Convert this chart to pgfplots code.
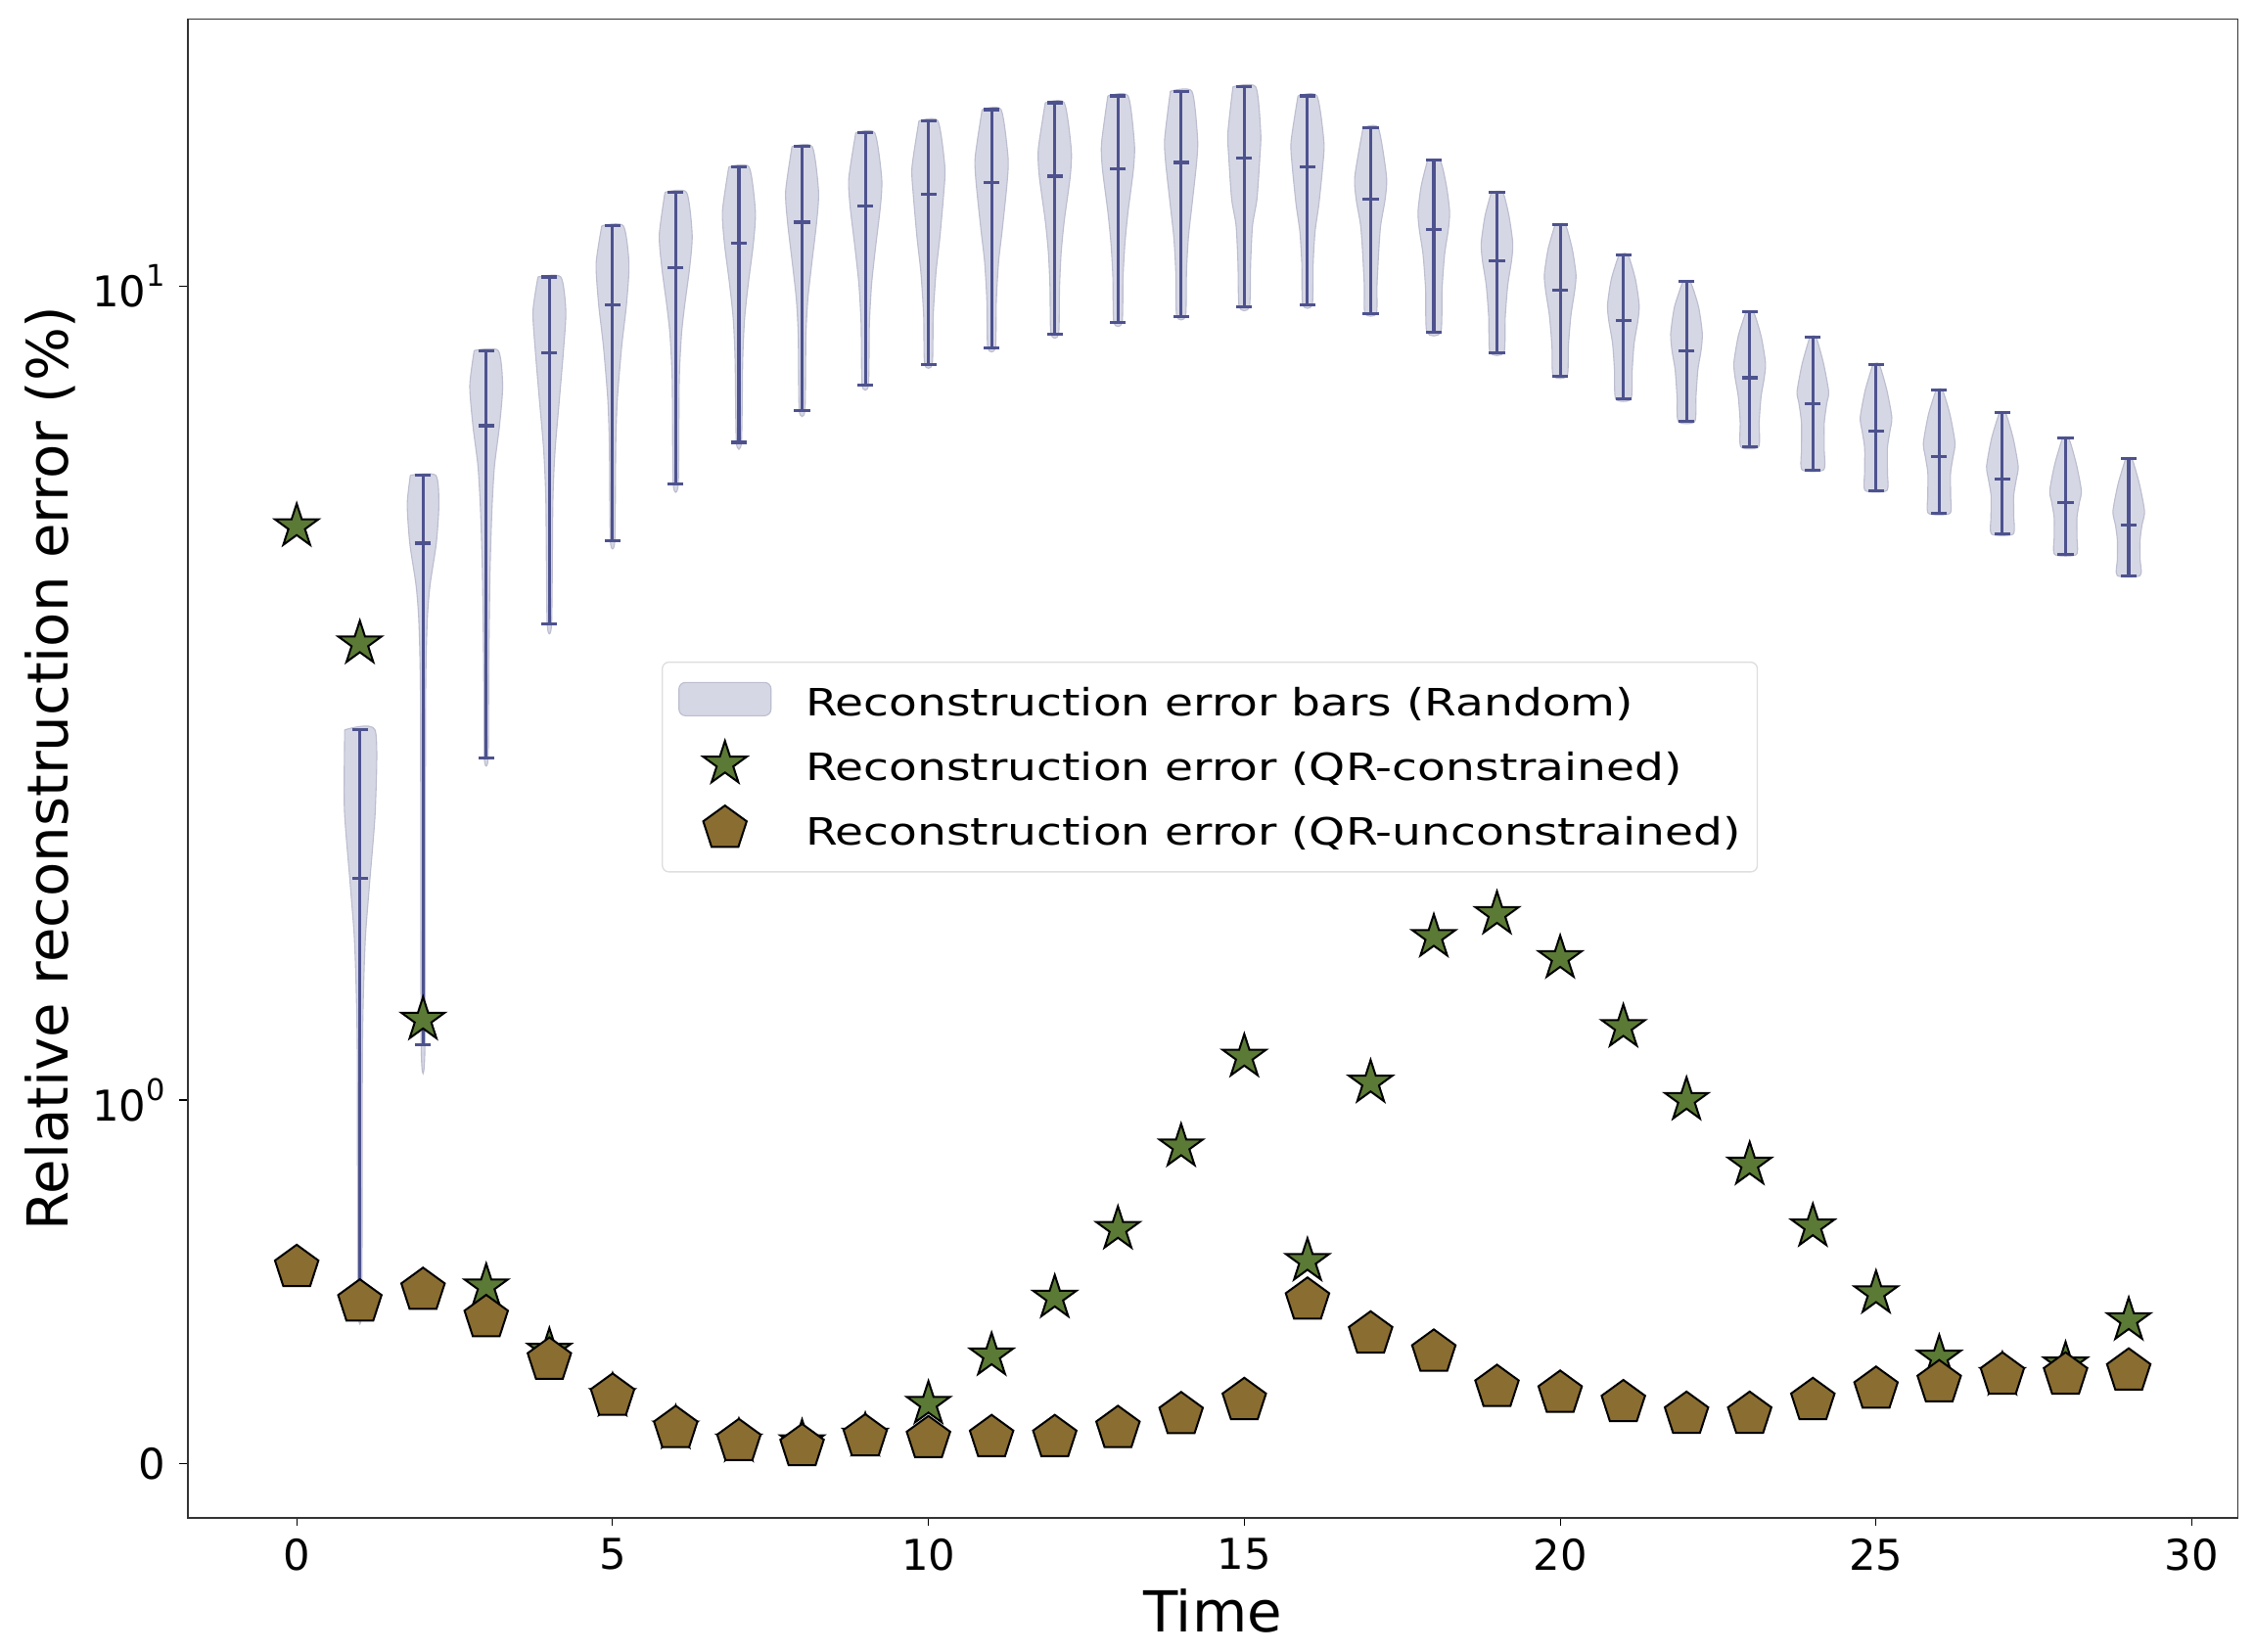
\documentclass[border=0pt]{standalone}
\usepackage{fontspec}
\setmainfont{DejaVu Sans}
\newfontfamily\legfont[FakeStretch=1.225]{DejaVu Sans}
\usepackage{pgfplots}
\usepackage{pgfplotstable}
\pgfplotsset{compat=1.18}
\usetikzlibrary{plotmarks}

\definecolor{vfill}{RGB}{214,215,229}
\definecolor{vedge}{RGB}{188,189,206}
\definecolor{vline}{RGB}{77,82,142}
\definecolor{starc}{RGB}{91,122,53}
\definecolor{pentc}{RGB}{138,109,49}

\pgfdeclareplotmark{fstar}{%
  \pgfpathmoveto{\pgfqpointpolar{90}{\pgfplotmarksize}}%
  \pgfpathlineto{\pgfqpointpolar{126}{0.381966\pgfplotmarksize}}%
  \pgfpathlineto{\pgfqpointpolar{162}{\pgfplotmarksize}}%
  \pgfpathlineto{\pgfqpointpolar{198}{0.381966\pgfplotmarksize}}%
  \pgfpathlineto{\pgfqpointpolar{234}{\pgfplotmarksize}}%
  \pgfpathlineto{\pgfqpointpolar{270}{0.381966\pgfplotmarksize}}%
  \pgfpathlineto{\pgfqpointpolar{306}{\pgfplotmarksize}}%
  \pgfpathlineto{\pgfqpointpolar{342}{0.381966\pgfplotmarksize}}%
  \pgfpathlineto{\pgfqpointpolar{18}{\pgfplotmarksize}}%
  \pgfpathlineto{\pgfqpointpolar{54}{0.381966\pgfplotmarksize}}%
  \pgfpathclose
  \pgfusepathqfillstroke
}
\pgfdeclareplotmark{fpent}{%
  \pgfpathmoveto{\pgfqpointpolar{90}{\pgfplotmarksize}}%
  \pgfpathlineto{\pgfqpointpolar{162}{\pgfplotmarksize}}%
  \pgfpathlineto{\pgfqpointpolar{234}{\pgfplotmarksize}}%
  \pgfpathlineto{\pgfqpointpolar{306}{\pgfplotmarksize}}%
  \pgfpathlineto{\pgfqpointpolar{18}{\pgfplotmarksize}}%
  \pgfpathclose
  \pgfusepathqfillstroke
}

\newcommand{\tenpow}[1]{10\raisebox{0.48em}{\fontsize{13.7}{14}\selectfont #1}}
\newcommand{\legbox}{\pgfpathrectangle{\pgfpoint{0pt}{-8.5pt}}{\pgfpoint{58.25pt}{17pt}}\pgfusepath{use as bounding box}}

% violin summary: x, minimum, median, maximum (relative error, %)
\pgfplotstableread{
x min med max
1 0.44 1.873 2.85
2 1.168 4.835 5.86
3 2.63 6.74 8.34
4 3.85 8.29 10.27
5 4.864 9.50 11.87
6 5.72 10.54 13.05
7 6.43 11.31 14.02
8 7.04 11.99 14.85
9 7.56 12.55 15.44
10 8.02 12.97 15.97
11 8.40 13.40 16.49
12 8.73 13.66 16.81
13 9.02 13.93 17.14
14 9.19 14.20 17.37
15 9.43 14.38 17.59
16 9.49 14.02 17.14
17 9.25 12.81 15.66
18 8.78 11.75 14.28
19 8.29 10.75 13.05
20 7.76 9.88 11.91
21 7.27 9.07 10.94
22 6.82 8.34 10.13
23 6.35 7.72 9.30
24 5.95 7.18 8.66
25 5.61 6.64 8.02
26 5.26 6.18 7.46
27 4.96 5.79 6.99
28 4.68 5.43 6.51
29 4.41 5.09 6.14
}\vstats

\pgfplotstableread{
x y
0 5.07
1 3.64
2 1.255
3 0.487
4 0.310
5 0.185
6 0.096
7 0.060
8 0.058
9 0.076
10 0.164
11 0.297
12 0.456
13 0.645
14 0.872
15 1.13
16 0.557
17 1.05
18 1.586
19 1.692
20 1.494
21 1.229
22 1.0
23 0.822
24 0.652
25 0.468
26 0.291
27 0.243
28 0.272
29 0.394
}\qrcon

\pgfplotstableread{
x y
0 0.539
1 0.444
2 0.476
3 0.401
4 0.284
5 0.185
6 0.096
7 0.060
8 0.046
9 0.073
10 0.068
11 0.071
12 0.071
13 0.096
14 0.134
15 0.173
16 0.449
17 0.356
18 0.306
19 0.209
20 0.193
21 0.167
22 0.135
23 0.135
24 0.173
25 0.204
26 0.222
27 0.243
28 0.243
29 0.254
}\qrunc

\begin{document}
\begin{tikzpicture}
\path[use as bounding box] (-86.31pt,-61.2pt) rectangle (950.0pt,697.93pt);
\begin{axis}[
  at={(0pt,0pt)}, anchor=south west,
  width=942.5pt, height=689.2pt, scale only axis,
  xmin=-1.725, xmax=30.725,
  ymin=-0.1498, ymax=21.31,
  y coord trafo/.code={\pgfmathparse{ifthenelse(#1<=1,0.4467*#1,0.4467+0.4342945*ln(max(#1,1)))}},
  xtick={0,5,10,15,20,25,30},
  xticklabels={0,5,10,15,20,25,30},
  ytick={0,1,10},
  yticklabels={0,\tenpow{0},\tenpow{1}},
  minor tick num=0,
  xtick pos=bottom, ytick pos=left,
  tick align=outside,
  major tick length=3.8pt,
  every tick/.style={black, line width=0.5pt},
  axis line style={line width=0.7pt, black!80},
  ticklabel style={font=\fontsize{19.5}{20}\selectfont},
  yticklabel style={anchor=east, inner sep=0pt, xshift=-6.3pt},
  xticklabel style={anchor=north, inner sep=0pt, yshift=-5.6pt},
  xlabel={Time},
  ylabel={Relative reconstruction error (\%)},
  xlabel style={at={(axis description cs:0.5,-0.0759)}, anchor=base, inner sep=0pt, font=\fontsize{26}{28}\selectfont},
  ylabel style={at={(axis description cs:-0.0586,0.5)}, anchor=base, inner sep=0pt, font=\fontsize{26}{28}\selectfont},
  legend cell align=left,
  legend style={at={(0.2312,0.5713)}, anchor=north west,
    draw=black!13, line width=0.6pt, rounded corners=3pt,
    fill=white, fill opacity=0.8, text opacity=1,
    inner xsep=5.65pt, inner ysep=10pt,
    row sep=12.7pt, column sep=0pt,
    nodes={inner xsep=2pt, inner ysep=0pt, text height=14.6pt, text depth=2.4pt},
    font=\legfont\fontsize{17.3}{18}\selectfont},
  vio/.style={fill=vfill, draw=vedge, line width=0.5pt, smooth, tension=0.4, forget plot},
  vl/.style={vline, line width=1.4pt, forget plot},
  cap/.style={only marks, mark=-, mark size=3.63pt, vline, mark options={line width=1.4pt}, forget plot},
]
\addlegendimage{legend image code/.code={\legbox\draw[fill=vfill, draw=vedge, line width=0.5pt, opacity=1] (2pt,-6.1pt) rectangle (44.3pt,9.2pt);}}
\addlegendentry{Reconstruction error bars (Random)}
\addlegendimage{legend image code/.code={\legbox\path[opacity=1, mark=fstar, mark size=10.5pt, mark options={fill=starc, draw=black, line width=0.9pt, opacity=1}] plot[only marks] coordinates {(23.15pt,1.5pt)};}}
\addlegendentry{Reconstruction error (QR-constrained)}
\addlegendimage{legend image code/.code={\legbox\path[opacity=1, mark=fpent, mark size=10.5pt, mark options={fill=pentc, draw=black, line width=0.9pt, opacity=1}] plot[only marks] coordinates {(23.15pt,1.5pt)};}}
\addlegendentry{Reconstruction error (QR-unconstrained)}

% violin outlines
\addplot[vio] coordinates {(0.76,2.85)(1.24,2.85)(1.245,2.28)(1.16,1.873)(1.09,1.597)(1.06,1.387)(1.04,1.13)(1.03,0.44)(0.97,0.44)(0.96,1.13)(0.94,1.387)(0.91,1.597)(0.84,1.873)(0.755,2.28)(0.76,2.85)};
\addplot[vio] coordinates {(1.80,5.86)(2.20,5.86)(2.25,5.40)(2.21,4.835)(2.11,4.29)(2.065,3.86)(2.04,3.06)(2.03,1.168)(1.97,1.168)(1.96,3.06)(1.935,3.86)(1.89,4.29)(1.79,4.835)(1.75,5.40)(1.80,5.86)};
\addplot[vio] coordinates {(2.81,8.34)(3.19,8.34)(3.26,7.55)(3.21,6.74)(3.13,6.01)(3.09,5.31)(3.06,4.45)(3.04,3.42)(3.03,2.63)(2.97,2.63)(2.96,3.42)(2.94,4.45)(2.91,5.31)(2.87,6.01)(2.79,6.74)(2.74,7.55)(2.81,8.34)};
\addplot[vio] coordinates {(3.82,10.27)(4.18,10.27)(4.26,9.31)(4.22,8.29)(4.16,7.29)(4.09,6.29)(4.055,5.43)(4.035,3.85)(3.965,3.85)(3.945,5.43)(3.91,6.29)(3.84,7.29)(3.78,8.29)(3.74,9.31)(3.82,10.27)};
\addplot[vio] coordinates {(4.83,11.87)(5.17,11.87)(5.26,10.66)(5.22,9.50)(5.145,8.45)(5.075,7.26)(5.05,6.36)(5.035,4.864)(4.965,4.864)(4.95,6.36)(4.925,7.26)(4.855,8.45)(4.78,9.50)(4.74,10.66)(4.83,11.87)};
\addplot[vio] coordinates {(5.83,13.05)(6.17,13.05)(6.26,11.57)(6.22,10.54)(6.14,9.46)(6.09,8.71)(6.055,7.64)(6.04,5.72)(5.96,5.72)(5.945,7.64)(5.91,8.71)(5.86,9.46)(5.78,10.54)(5.74,11.57)(5.83,13.05)};
\addplot[vio] coordinates {(6.84,14.02)(7.16,14.02)(7.26,12.38)(7.23,11.31)(7.15,10.10)(7.09,9.13)(7.06,8.12)(7.04,6.43)(6.96,6.43)(6.94,8.12)(6.91,9.13)(6.85,10.10)(6.77,11.31)(6.74,12.38)(6.84,14.02)};
\addplot[vio] coordinates {(7.84,14.85)(8.16,14.85)(8.26,13.09)(8.23,11.99)(8.15,10.62)(8.09,9.63)(8.06,8.68)(8.045,7.04)(7.955,7.04)(7.94,8.68)(7.91,9.63)(7.85,10.62)(7.77,11.99)(7.74,13.09)(7.84,14.85)};
\addplot[vio] coordinates {(8.85,15.44)(9.15,15.44)(9.26,13.58)(9.24,12.55)(9.16,11.12)(9.10,10.06)(9.065,8.98)(9.05,7.56)(8.95,7.56)(8.935,8.98)(8.90,10.06)(8.84,11.12)(8.76,12.55)(8.74,13.58)(8.85,15.44)};
\addplot[vio] coordinates {(9.85,15.97)(10.15,15.97)(10.26,14.01)(10.24,12.97)(10.18,11.47)(10.12,10.42)(10.075,9.20)(10.06,8.02)(9.94,8.02)(9.925,9.20)(9.88,10.42)(9.82,11.47)(9.76,12.97)(9.74,14.01)(9.85,15.97)};
\addplot[vio] coordinates {(10.85,16.49)(11.15,16.49)(11.26,14.41)(11.245,13.40)(11.17,11.77)(11.11,10.71)(11.075,9.61)(11.06,8.40)(10.94,8.40)(10.925,9.61)(10.89,10.71)(10.83,11.77)(10.755,13.40)(10.74,14.41)(10.85,16.49)};
\addplot[vio] coordinates {(11.85,16.81)(12.15,16.81)(12.26,14.75)(12.245,13.66)(12.15,12.04)(12.10,10.98)(12.075,9.95)(12.06,8.73)(11.94,8.73)(11.925,9.95)(11.90,10.98)(11.85,12.04)(11.755,13.66)(11.74,14.75)(11.85,16.81)};
\addplot[vio] coordinates {(12.84,17.14)(13.16,17.14)(13.26,14.98)(13.245,13.93)(13.16,12.36)(13.11,11.29)(13.08,10.25)(13.065,9.02)(12.935,9.02)(12.92,10.25)(12.89,11.29)(12.84,12.36)(12.755,13.93)(12.74,14.98)(12.84,17.14)};
\addplot[vio] coordinates {(13.83,17.37)(14.17,17.37)(14.26,15.19)(14.245,14.20)(14.17,12.56)(14.115,11.48)(14.085,10.44)(14.07,9.19)(13.93,9.19)(13.915,10.44)(13.885,11.48)(13.83,12.56)(13.755,14.20)(13.74,15.19)(13.83,17.37)};
\addplot[vio] coordinates {(14.82,17.59)(15.18,17.59)(15.26,15.43)(15.245,14.38)(15.20,12.80)(15.13,11.88)(15.10,10.68)(15.08,9.43)(14.92,9.43)(14.90,10.68)(14.87,11.88)(14.80,12.80)(14.755,14.38)(14.74,15.43)(14.82,17.59)};
\addplot[vio] coordinates {(15.85,17.14)(16.15,17.14)(16.26,15.05)(16.24,14.02)(16.18,12.61)(16.12,11.68)(16.09,10.69)(16.075,9.49)(15.925,9.49)(15.91,10.69)(15.88,11.68)(15.82,12.61)(15.76,14.02)(15.74,15.05)(15.85,17.14)};
\addplot[vio] coordinates {(16.88,15.66)(17.12,15.66)(17.25,13.66)(17.23,12.81)(17.16,11.91)(17.13,11.12)(17.10,10.01)(17.09,9.25)(16.91,9.25)(16.90,10.01)(16.87,11.12)(16.84,11.91)(16.77,12.81)(16.75,13.66)(16.88,15.66)};
\addplot[vio] coordinates {(17.90,14.28)(18.10,14.28)(18.20,13.28)(18.25,12.35)(18.23,11.75)(18.17,10.94)(18.13,9.92)(18.11,8.78)(17.89,8.78)(17.87,9.92)(17.83,10.94)(17.77,11.75)(17.75,12.35)(17.80,13.28)(17.90,14.28)};
\addplot[vio] coordinates {(18.91,13.05)(19.09,13.05)(19.19,12.20)(19.25,11.29)(19.23,10.75)(19.17,10.03)(19.13,9.16)(19.11,8.29)(18.89,8.29)(18.87,9.16)(18.83,10.03)(18.77,10.75)(18.75,11.29)(18.81,12.20)(18.91,13.05)};
\addplot[vio] coordinates {(19.92,11.91)(20.08,11.91)(20.19,11.12)(20.25,10.34)(20.23,9.88)(20.17,9.21)(20.13,8.45)(20.11,7.76)(19.89,7.76)(19.87,8.45)(19.83,9.21)(19.77,9.88)(19.75,10.34)(19.81,11.12)(19.92,11.91)};
\addplot[vio] coordinates {(20.93,10.94)(21.07,10.94)(21.19,10.21)(21.25,9.49)(21.23,9.07)(21.17,8.50)(21.14,7.89)(21.12,7.27)(20.88,7.27)(20.86,7.89)(20.83,8.50)(20.77,9.07)(20.75,9.49)(20.81,10.21)(20.93,10.94)};
\addplot[vio] coordinates {(21.94,10.13)(22.06,10.13)(22.19,9.44)(22.25,8.75)(22.23,8.34)(22.18,7.90)(22.15,7.33)(22.13,6.82)(21.87,6.82)(21.85,7.33)(21.82,7.90)(21.77,8.34)(21.75,8.75)(21.81,9.44)(21.94,10.13)};
\addplot[vio] coordinates {(22.94,9.30)(23.06,9.30)(23.18,8.69)(23.25,8.05)(23.23,7.72)(23.18,7.32)(23.15,6.81)(23.14,6.35)(22.86,6.35)(22.85,6.81)(22.82,7.32)(22.77,7.72)(22.75,8.05)(22.82,8.69)(22.94,9.30)};
\addplot[vio] coordinates {(23.95,8.66)(24.05,8.66)(24.17,8.03)(24.25,7.42)(24.22,7.18)(24.18,6.79)(24.18,6.30)(24.17,5.95)(23.83,5.95)(23.82,6.30)(23.82,6.79)(23.78,7.18)(23.75,7.42)(23.83,8.03)(23.95,8.66)};
\addplot[vio] coordinates {(24.95,8.02)(25.05,8.02)(25.17,7.46)(25.25,6.90)(25.22,6.64)(25.18,6.33)(25.18,5.92)(25.17,5.61)(24.83,5.61)(24.82,5.92)(24.82,6.33)(24.78,6.64)(24.75,6.90)(24.83,7.46)(24.95,8.02)};
\addplot[vio] coordinates {(25.95,7.46)(26.05,7.46)(26.17,6.96)(26.25,6.42)(26.22,6.18)(26.18,5.90)(26.18,5.54)(26.17,5.26)(25.83,5.26)(25.82,5.54)(25.82,5.90)(25.78,6.18)(25.75,6.42)(25.83,6.96)(25.95,7.46)};
\addplot[vio] coordinates {(26.95,6.99)(27.05,6.99)(27.17,6.51)(27.25,6.01)(27.22,5.79)(27.18,5.54)(27.18,5.22)(27.17,4.96)(26.83,4.96)(26.82,5.22)(26.82,5.54)(26.78,5.79)(26.75,6.01)(26.83,6.51)(26.95,6.99)};
\addplot[vio] coordinates {(27.95,6.51)(28.05,6.51)(28.17,6.05)(28.25,5.61)(28.22,5.43)(28.18,5.20)(28.18,4.92)(28.17,4.68)(27.83,4.68)(27.82,4.92)(27.82,5.20)(27.78,5.43)(27.75,5.61)(27.83,6.05)(27.95,6.51)};
\addplot[vio] coordinates {(28.95,6.14)(29.05,6.14)(29.17,5.71)(29.25,5.29)(29.21,5.09)(29.18,4.88)(29.18,4.62)(29.18,4.41)(28.82,4.41)(28.82,4.62)(28.82,4.88)(28.79,5.09)(28.75,5.29)(28.83,5.71)(28.95,6.14)};

% min-max lines
\addplot[vl] coordinates {(1,0.44)(1,2.85)};
\addplot[vl] coordinates {(2,1.168)(2,5.86)};
\addplot[vl] coordinates {(3,2.63)(3,8.34)};
\addplot[vl] coordinates {(4,3.85)(4,10.27)};
\addplot[vl] coordinates {(5,4.864)(5,11.87)};
\addplot[vl] coordinates {(6,5.72)(6,13.05)};
\addplot[vl] coordinates {(7,6.43)(7,14.02)};
\addplot[vl] coordinates {(8,7.04)(8,14.85)};
\addplot[vl] coordinates {(9,7.56)(9,15.44)};
\addplot[vl] coordinates {(10,8.02)(10,15.97)};
\addplot[vl] coordinates {(11,8.40)(11,16.49)};
\addplot[vl] coordinates {(12,8.73)(12,16.81)};
\addplot[vl] coordinates {(13,9.02)(13,17.14)};
\addplot[vl] coordinates {(14,9.19)(14,17.37)};
\addplot[vl] coordinates {(15,9.43)(15,17.59)};
\addplot[vl] coordinates {(16,9.49)(16,17.14)};
\addplot[vl] coordinates {(17,9.25)(17,15.66)};
\addplot[vl] coordinates {(18,8.78)(18,14.28)};
\addplot[vl] coordinates {(19,8.29)(19,13.05)};
\addplot[vl] coordinates {(20,7.76)(20,11.91)};
\addplot[vl] coordinates {(21,7.27)(21,10.94)};
\addplot[vl] coordinates {(22,6.82)(22,10.13)};
\addplot[vl] coordinates {(23,6.35)(23,9.30)};
\addplot[vl] coordinates {(24,5.95)(24,8.66)};
\addplot[vl] coordinates {(25,5.61)(25,8.02)};
\addplot[vl] coordinates {(26,5.26)(26,7.46)};
\addplot[vl] coordinates {(27,4.96)(27,6.99)};
\addplot[vl] coordinates {(28,4.68)(28,6.51)};
\addplot[vl] coordinates {(29,4.41)(29,6.14)};

% caps
\addplot[cap] table[x=x,y=min]{\vstats};
\addplot[cap] table[x=x,y=med]{\vstats};
\addplot[cap] table[x=x,y=max]{\vstats};

% QR markers
\addplot[only marks, mark=fstar, mark size=10.5pt, mark options={fill=starc, draw=black, line width=0.9pt}, forget plot] table[x=x,y=y]{\qrcon};
\addplot[only marks, mark=fpent, mark size=10.5pt, mark options={fill=pentc, draw=black, line width=0.9pt}, forget plot] table[x=x,y=y]{\qrunc};
\end{axis}
\end{tikzpicture}
\end{document}
